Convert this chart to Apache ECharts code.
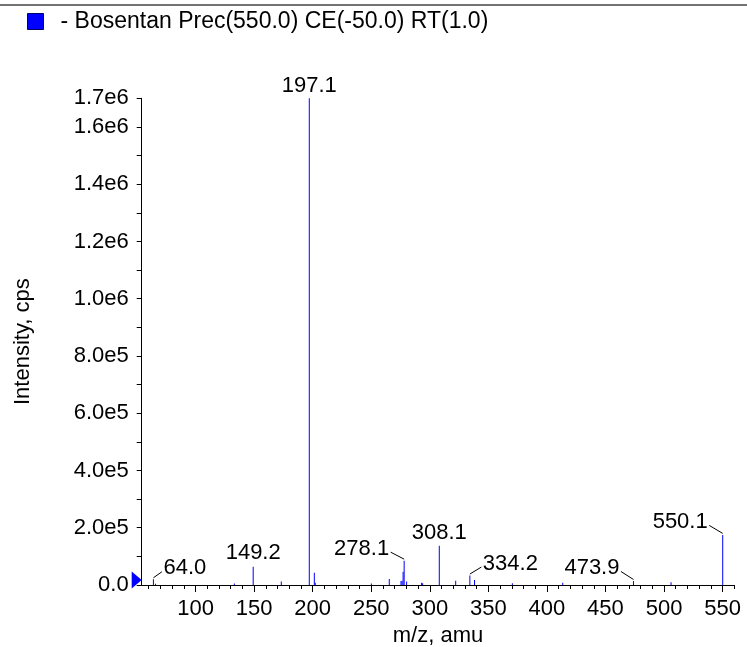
<!DOCTYPE html>
<html><head><meta charset="utf-8">
<script src="https://cdn.jsdelivr.net/npm/echarts@6/dist/echarts.min.js"></script>
<style>html,body{margin:0;padding:0;background:#fff}#c{width:747px;height:647px}</style>
</head><body><div id="c"></div>
<script>
const seriesName = '- Bosentan Prec(550.0) CE(-50.0) RT(1.0)';
const xAxisName = 'm/z, amu';
const yAxisName = 'Intensity, cps';

// spectrum peaks (m/z, intensity in cps)
const peakMz = [64.0, 65.8, 133.1, 149.2, 173.2, 197.1, 201.4, 202.2, 250.1, 265.4,
  275.4, 276.3, 277.2, 278.1, 280.2, 293.0, 293.9, 308.1, 322.1, 334.2,
  338.2, 370.5, 413.5, 473.9, 506.0, 550.1];
const peakIntensity = [20000, 4000, 5000, 64000, 12000, 1700000, 43000, 8000, 5000, 21000,
  14000, 15000, 46000, 85000, 12000, 8000, 6000, 137000, 15000, 33000,
  17500, 6000, 8000, 14000, 10000, 175000];

// annotated peaks
const annotMz = [64.0, 149.2, 197.1, 278.1, 308.1, 334.2, 473.9, 550.1];
const annotIntensity = [20000, 64000, 1700000, 85000, 137000, 33000, 14000, 175000];

// precursor marker at the origin
const markerPoint = [54, 0];

// axes
const xMin = 54, xMax = 560;
const xMajorTicks = [100, 150, 200, 250, 300, 350, 400, 450, 500, 550];
const xMinorTicks = [60, 70, 80, 90, 110, 120, 130, 140, 160, 170, 180, 190, 210, 220, 230, 240,
  260, 270, 280, 290, 310, 320, 330, 340, 360, 370, 380, 390, 410, 420, 430, 440,
  460, 470, 480, 490, 510, 520, 530, 540, 560];
const yMin = 0, yMax = 1700000;
const yLabelTicks = [0, 200000, 400000, 600000, 800000, 1000000, 1200000, 1400000, 1600000, 1700000];
const yAllTicks = [0, 100000, 200000, 300000, 400000, 500000, 600000, 700000, 800000, 900000,
  1000000, 1100000, 1200000, 1300000, 1400000, 1500000, 1600000, 1700000];

// label placement (style): offset of label anchor from the peak top, px
const annotPlacement = [
  {dx: 10, dy: -11, align: 'left', line: true},
  {dx: 0, dy: -14, align: 'center', line: false},
  {dx: 0, dy: -12, align: 'center', line: false},
  {dx: -15, dy: -12, align: 'right', line: true},
  {dx: 0, dy: -13, align: 'center', line: false},
  {dx: 13, dy: -12, align: 'left', line: true},
  {dx: -14, dy: -13, align: 'right', line: true},
  {dx: -15, dy: -13, align: 'right', line: true}
];

const FONT = 'Liberation Sans, Arial, Helvetica, sans-serif';
const FS = 22;

function fmtY(v) {
  if (v === 0) return '0.0';
  const e = Math.floor(Math.log10(v) + 1e-9);
  return (v / Math.pow(10, e)).toFixed(1) + 'e' + e;
}

function renderAnnot(params, api) {
  const o = annotPlacement[params.dataIndex];
  const mz = api.value(0);
  const p = api.coord([mz, api.value(1)]);
  const lx = p[0] + o.dx, ly = p[1] + o.dy;
  const children = [{
    type: 'text',
    style: {text: mz.toFixed(1), x: lx, y: ly, align: o.align, verticalAlign: 'middle',
      fontSize: FS, fontFamily: FONT, fill: '#000'}
  }];
  if (o.line) {
    const s = o.dx > 0 ? 1 : -1;
    children.push({
      type: 'line',
      shape: {x1: p[0], y1: p[1] - 1.5, x2: lx - s * 1.5, y2: ly + 3.5},
      style: {stroke: '#000', lineWidth: 1}
    });
  }
  return {type: 'group', children};
}

const chart = echarts.init(document.getElementById('c'), null, {renderer: 'canvas'});
chart.setOption({
  animation: false,
  textStyle: {fontFamily: FONT, color: '#000'},
  grid: {left: 141.7, right: 12.7, top: 98.3, bottom: 62, containLabel: false, outerBoundsMode: 'none'},
  legend: {
    data: [seriesName], left: 27, top: 10, padding: 0, icon: 'rect', itemWidth: 16, itemHeight: 16,
    itemStyle: {borderColor: '#000066', borderWidth: 1},
    textStyle: {fontSize: 23, fontFamily: FONT, color: '#000', padding: [5, 0, 0, 12]},
    selectedMode: false
  },
  graphic: [{type: 'line', shape: {x1: 0, y1: 5, x2: 747, y2: 5}, style: {stroke: '#444', lineWidth: 1.5}, silent: true}],
  xAxis: [{
    type: 'value', min: xMin, max: xMax,
    name: xAxisName, nameLocation: 'middle', nameGap: 34,
    nameTextStyle: {fontSize: FS, fontFamily: FONT, color: '#000'},
    axisLine: {show: true, lineStyle: {color: '#000', width: 1}},
    axisTick: {show: true, length: 7, customValues: xMajorTicks, lineStyle: {color: '#000'}},
    axisLabel: {show: true, customValues: xMajorTicks, margin: 13, fontSize: FS, fontFamily: FONT, color: '#000'},
    splitLine: {show: false}
  }, {
    type: 'value', min: xMin, max: xMax, position: 'bottom',
    axisLine: {show: false},
    axisTick: {show: true, length: 4, customValues: xMinorTicks, lineStyle: {color: '#000'}},
    axisLabel: {show: false},
    splitLine: {show: false}
  }],
  yAxis: [{
    type: 'value', min: yMin, max: yMax,
    name: yAxisName, nameLocation: 'middle', nameGap: 108, nameRotate: 90,
    nameTextStyle: {fontSize: FS, fontFamily: FONT, color: '#000'},
    axisLine: {show: true, lineStyle: {color: '#000', width: 1}},
    axisTick: {show: true, length: 5, customValues: yAllTicks, lineStyle: {color: '#000'}},
    axisLabel: {show: true, customValues: yLabelTicks, margin: 13, fontSize: FS, fontFamily: FONT, color: '#000', formatter: fmtY},
    splitLine: {show: false}
  }],
  series: [{
    name: seriesName, type: 'bar', xAxisIndex: 0, yAxisIndex: 0,
    barWidth: 1, itemStyle: {color: '#0000ff'}, silent: true,
    data: peakMz.map((m, i) => [m, peakIntensity[i]])
  }, {
    name: 'annotations', type: 'custom', xAxisIndex: 0, yAxisIndex: 0,
    clip: false, silent: true, renderItem: renderAnnot,
    data: annotMz.map((m, i) => [m, annotIntensity[i]])
  }, {
    name: 'precursor', type: 'scatter', xAxisIndex: 0, yAxisIndex: 0,
    symbol: 'path://M0,0 L10,8.5 L0,17 Z', symbolSize: [10, 17], symbolOffset: [-5, -5],
    clip: false, silent: true, itemStyle: {color: '#0000ff', opacity: 1},
    data: [markerPoint]
  }]
});
</script></body></html>
